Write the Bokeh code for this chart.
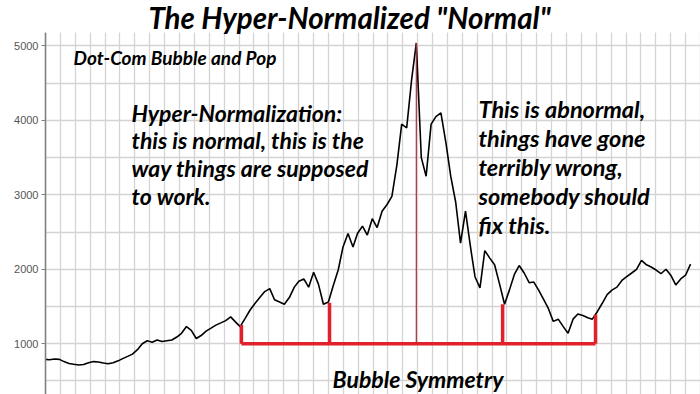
import pandas as pd
from bokeh.plotting import figure
from bokeh.models import Range1d, FixedTicker, Label, BoxAnnotation
from bokeh.embed import file_html
from bokeh.resources import INLINE

# ---- data (monthly index level) ----
first_month = "1993-11-01"
index_values = [
    790, 785,                                                            # 1993 Nov-Dec
    795, 790, 760, 735, 725, 715, 720, 745, 760, 755, 740, 730,          # 1994
    745, 770, 800, 830, 860, 920, 1000, 1040, 1020, 1050, 1030, 1040,    # 1995
    1050, 1090, 1140, 1230, 1180, 1070, 1110, 1170, 1210, 1250, 1280, 1310,  # 1996
    1360, 1290, 1230, 1340, 1450, 1540, 1620, 1700, 1740, 1590, 1560, 1530,  # 1997
    1620, 1760, 1840, 1870, 1760, 1960, 1800, 1530, 1560, 1780, 1990, 2300,  # 1998
    2480, 2300, 2480, 2580, 2460, 2680, 2560, 2780, 2870, 2980, 3400, 3950,  # 1999
    3900, 4550, 5040, 3500, 3250, 3950, 4050, 4100, 3700, 3250, 2900, 2350,  # 2000
    2780, 2300, 1900, 1750, 2250, 2150, 2060, 1800, 1530, 1720, 1930, 2050,  # 2001
    1950, 1820, 1830, 1720, 1600, 1470, 1300, 1330, 1230, 1140, 1330, 1400,  # 2002
    1380, 1350, 1330, 1430, 1540, 1660, 1720, 1760, 1850, 1900, 1950, 2000,  # 2003
    2120, 2060, 2030, 1990, 1940, 2000, 1920, 1790, 1870, 1920, 2070,        # 2004 Jan-Nov
]

bubble_dates = ["1997-03-23", "1998-09-22", "2001-09-03", "2003-04-04"]
bubble_tops = [1250, 1550, 1530, 1390]
peak_date = "2000-03-15"
peak_value = 5040
base_level = 1000

y_ticks = [1000, 2000, 3000, 4000, 5000]

title_text = 'The Hyper-Normalized "Normal"'
subtitle_text = "Dot-Com Bubble and Pop"
left_lines = ["Hyper-Normalization:", "this is normal, this is the",
              "way things are supposed", "to work."]
right_lines = ["This is abnormal,", "things have gone", "terribly wrong,",
               "somebody should", "fix this."]
bottom_text = "Bubble Symmetry"

# ---- build ----
dates = pd.date_range(first_month, periods=len(index_values), freq="MS") + pd.Timedelta(days=14)

plot_top = 5179      # value at the top edge of the gridded area
canvas_top = 5610    # value at the top edge of the picture (title band above the grid)

p = figure(width=700, height=394, x_axis_type="datetime",
           x_range=Range1d(pd.Timestamp("1993-11-20"), pd.Timestamp("2005-01-16")),
           y_range=Range1d(318, canvas_top),
           x_axis_location=None,
           output_backend="svg", toolbar_location=None,
           min_border_left=45, min_border_right=0, min_border_top=0, min_border_bottom=0)
p.outline_line_color = None
p.background_fill_color = "white"
p.border_fill_color = "white"

grid_start = pd.Timestamp("1994-02-21")
grid_step = pd.Timedelta(days=92.6)
p.xgrid.ticker = FixedTicker(ticks=[(grid_start + k * grid_step).value / 1e6 for k in range(44)])
p.xgrid.grid_line_color = "#d4d4d4"
p.xgrid.grid_line_width = 1.3
p.ygrid.ticker = FixedTicker(ticks=list(range(500, 5001, 500)))
p.ygrid.grid_line_color = "#d4d4d4"
p.ygrid.grid_line_width = 1.3

ax = p.yaxis[0]
ax.ticker = FixedTicker(ticks=y_ticks)
ax.bounds = (318, plot_top)
ax.axis_line_color = "#808080"
ax.axis_line_width = 1.6
ax.major_tick_line_color = "#808080"
ax.major_tick_out = 4
ax.major_tick_in = 0
ax.minor_tick_line_color = None
ax.major_label_text_font = "Liberation Sans"
ax.major_label_text_font_size = "11px"
ax.major_label_text_color = "#555555"
ax.major_label_standoff = 3

p.line(dates, index_values, line_color="black", line_width=1.6)

bd = pd.to_datetime(bubble_dates)
red = "#e0202a"
p.segment(x0=bd, y0=[base_level] * len(bd), x1=bd, y1=bubble_tops,
          line_color=red, line_width=3.5)
p.segment(x0=[bd[0]], y0=[base_level], x1=[bd[-1]], y1=[base_level],
          line_color=red, line_width=3.5)
p.segment(x0=[pd.Timestamp(peak_date)], y0=[base_level],
          x1=[pd.Timestamp(peak_date)], y1=[peak_value],
          line_color="#b02a36", line_width=1.2)

# white band above the grid for the title
p.add_layout(BoxAnnotation(bottom=plot_top, fill_color="white", fill_alpha=1.0,
                           line_color=None))

FONT = "Lato"

def add_text(txt, x, y, size, align="left"):
    p.add_layout(Label(x=x, y=y, x_units="screen", y_units="screen", text=txt,
                       text_font=FONT, text_font_style="bold italic",
                       text_font_size=size, text_color="black",
                       text_align=align, text_baseline="alphabetic"))

add_text(title_text, 304, 377, "29.5px", "center")
add_text(subtitle_text, 28, 337, "19px")
for line, yb in zip(left_lines, [282, 255, 227, 199]):
    add_text(line, 86, yb, "23px")
for line, yb in zip(right_lines, [286, 257, 228, 199, 170]):
    add_text(line, 433, yb, "23.5px")
add_text(bottom_text, 287, 16, "23px")

open("out.html", "w").write(file_html(p, INLINE))
